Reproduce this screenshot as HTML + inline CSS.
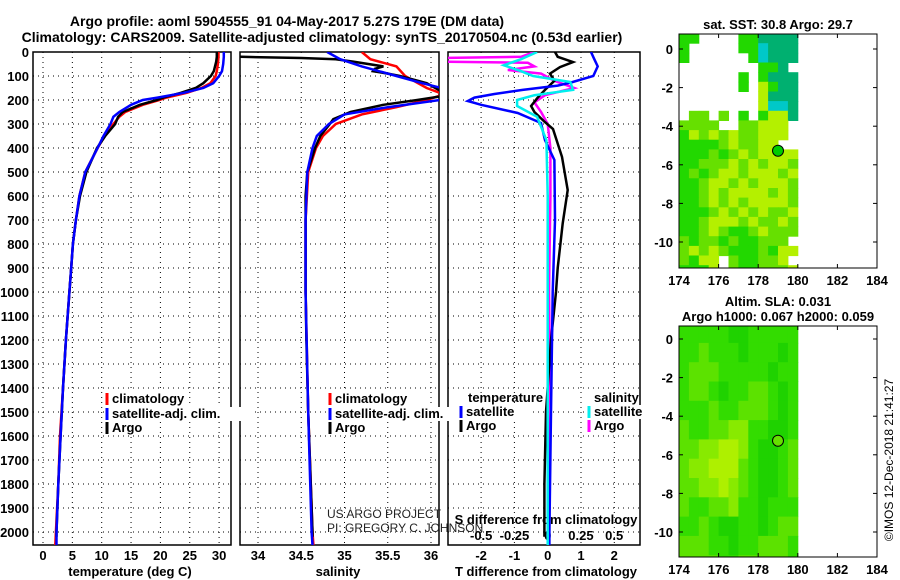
<!DOCTYPE html>
<html><head><meta charset="utf-8"><style>
html,body{margin:0;padding:0;background:#fff;}
svg{display:block;font-family:"Liberation Sans",sans-serif;}
.t{font-weight:bold;font-size:13px;}
</style></head><body>
<svg id="c" width="900" height="580" xmlns="http://www.w3.org/2000/svg">
<defs>
<clipPath id="cp1"><rect x="33" y="52" width="198" height="493"/></clipPath>
<clipPath id="cp2"><rect x="240" y="52" width="199" height="493"/></clipPath>
<clipPath id="cp3"><rect x="448" y="52" width="192" height="493"/></clipPath>
</defs>
<text x="287" y="26" text-anchor="middle" font-size="14" font-weight="bold">Argo profile: aoml 5904555_91 04-May-2017 5.27S 179E (DM data)</text>
<text x="322" y="42" text-anchor="middle" font-size="14" font-weight="bold">Climatology: CARS2009. Satellite-adjusted climatology: synTS_20170504.nc (0.53d earlier)</text>
<g id="g"></g>
</svg>
<script>
const depthTicks=[0,100,200,300,400,500,600,700,800,900,1000,1100,1200,1300,1400,1500,1600,1700,1800,1900,2000];
const tTicks=[0,5,10,15,20,25,30];
const sTicks=[34,34.5,35,35.5,36];
const dtTicks=[-2,-1,0,1,2];
const dsTicks=[-0.5,-0.25,0,0.25,0.5];
const dsTickLabels=['-0.5','-0.25','0','0.25','0.5'];
// temperature profiles
const tDepthClim=[0,20,50,80,100,130,150,170,190,200,220,250,270,300,350,400,500,600,700,800,900,1000,1200,1400,1600,1800,2000,2055];
const tClim=[29.9,29.9,29.8,29.6,29.4,28.5,27,24.5,21,19.8,17,14,13,12,10.5,9.3,7.2,6.2,5.6,5.1,4.8,4.5,3.9,3.4,2.9,2.6,2.2,2.1];
const tSat=[30.8,30.8,30.7,30.5,30,29,27.3,24,19.5,17,15,13,12,11.5,10.3,9.3,7.2,6.2,5.6,5.1,4.8,4.5,3.9,3.4,3,2.6,2.3,2.3];
const tDepthArgo=[0,20,40,60,80,100,130,150,170,190,200,220,250,270,300,350,400,500,600,700,800,900,1000,1200,1400,1600,1800,2000,2020];
const tArgo=[29.6,29.6,29.5,29.3,29.1,28.6,27.3,26,23.5,20.5,19.4,16.5,13.6,12.8,12.3,10.6,9.2,7.4,6.3,5.6,5.1,4.8,4.5,3.9,3.4,3,2.6,2.3,2.3];
// salinity profiles
const sDepthClim=[0,30,60,100,130,150,170,180,200,230,260,300,350,400,500,700,1000,1500,2000,2055];
const sClim=[35.2,35.3,35.6,35.7,35.85,35.95,36.1,36.12,35.95,35.6,35.2,34.9,34.75,34.67,34.58,34.55,34.55,34.58,34.63,34.64];
const sSat=[34.8,34.95,35.2,35.6,35.9,36.12,36.2,36.2,36.1,35.5,35,34.82,34.68,34.63,34.57,34.55,34.55,34.58,34.62,34.63];
const sDepthArgo=[0,10,20,25,30,40,60,70,80,90,100,130,150,170,180,200,220,250,280,300,350,400,500,600,800,1000,1200,1500,2000,2020];
const sArgo=[33.5,33.7,33.8,34.5,34.9,35.1,35.45,35.35,35.33,35.5,35.64,35.95,36.05,36.15,36.2,35.84,35.45,35.07,34.87,34.83,34.72,34.66,34.57,34.55,34.55,34.55,34.56,34.58,34.63,34.63];
// differences
const dDepthSatT=[0,30,60,100,125,140,158,175,190,204,220,254,296,367,450,700,1000,1500,2000,2055];
const dTSat=[1.3,1.4,1.5,1.37,0.75,0.3,-0.75,-1.6,-2.2,-2.4,-2.0,-0.9,-0.2,-0.08,0.2,0.22,0.15,0.1,0.05,0.05];
const dDepthArgoT=[0,20,42,63,90,120,158,190,225,250,290,321,437,575,714,900,1000,1200,1500,1800,2020];
const dTArgo=[0.22,0.3,0.76,0.37,0.07,0.2,-0.08,-0.3,-0.5,-0.4,-0.1,0.16,0.43,0.6,0.45,0.3,0.25,0.1,-0.05,-0.1,-0.1];
const dDepthSatS=[0,30,55,80,100,125,158,180,200,225,270,367,600,1000,2055];
const dSSat=[-0.08,-0.2,-0.33,-0.2,-0.11,0.17,0.19,-0.1,-0.23,-0.23,-0.08,-0.01,0,0,0];
const dDepthArgoS=[0,20,25,40,45,60,75,90,120,150,180,210,250,300,400,600,1000,1500,2000,2020];
const dSArgo=[-0.1,-0.2,-0.8,-0.8,-0.15,-0.1,-0.3,-0.05,0.05,0.2,-0.02,-0.1,-0.05,0,0.02,0.02,0.01,0.02,0.0,0.0];
// map grids
const sstRows=["gg....ggtttt","g.....ggcttt","g......gcttt","........ggt.","......g.gttt","......g.ygtt","........yttt","........ycct",".ll.l.g.gyyt","llll..llyyy.","gylylyllyyy.","gggglyllyy..","ggglglylyyyy","gglllylylyyl","glglyylyyyly","gglyylylyyyl","gglylyyyylyl","gglylylyyyyl","ggglylylylly","gglyyylyllyl","gglylgglylll","lgllglgglll.","lylylggglgyy","lgyy.lgglly.","gggy.lggllly"];
const slaRows=["gggggGGggggg","gglgggGgggGg","glllgggggGgg","gllgGggllgGg","ggglgglllgGg","lggllyyggGGg","llyyYYygGGgl","lyyYYYlgGGgl","llyyYylgGGgl","lggllyggGggg","gglgGGggGgll","lllggGgglllg","llllgglllllg"];
const latTicks=[0,-2,-4,-6,-8,-10];
const lonTicks=[174,176,178,180,182,184];

const NS='http://www.w3.org/2000/svg';
const G=document.getElementById('g');
function mk(tag,at,parent){const e=document.createElementNS(NS,tag);for(const k in at)e.setAttribute(k,at[k]);(parent||G).appendChild(e);return e;}
function txt(x,y,s,cls,anchor,extra){const e=mk('text',Object.assign({x:x,y:y,'text-anchor':anchor||'middle'},extra||{}));if(cls)e.setAttribute('class',cls);e.textContent=s;return e;}
const Y=d=>52+d*0.24;
const xT=t=>43+t*5.87, xS=s=>258+(s-34)*86.5, xDT=v=>547.7+v*33.3, xDS=v=>547.7+v*133;

function panel(x0,x1,name){
  const r=mk('rect',{x:x0,y:52,width:x1-x0,height:493,fill:'none',stroke:'#000','stroke-width':1.5});
  
  
  depthTicks.forEach(d=>{const l=mk('line',{x1:x0,x2:x1,y1:Y(d),y2:Y(d),stroke:'#000','stroke-dasharray':'1,4'});
    
    });
}
function vgrid(xs,fx,x0,name){xs.forEach(v=>{const l=mk('line',{x1:fx(v),x2:fx(v),y1:52,y2:545,stroke:'#000','stroke-dasharray':'1,4'});
  
  });}
function line(ds,vs,fx,color,clip,name){
  const p=mk('path',{d:ds.map((d,i)=>(i?'L':'M')+fx(vs[i]).toFixed(1)+','+Y(d).toFixed(1)).join(''),fill:'none',stroke:color,'stroke-width':2.5,'clip-path':'url(#'+clip+')'});
  
  
}
panel(33,231,'temperature-panel');panel(240,439,'salinity-panel');panel(448,640,'difference-panel');
vgrid(tTicks,xT,33,'temperature');vgrid(sTicks,xS,240,'salinity');vgrid(dtTicks,xDT,448,'difference');
depthTicks.forEach(d=>{const t=txt(29,Y(d)+5,String(d),'t','end');
  
  });
tTicks.forEach(v=>{const t=txt(xT(v),560,String(v),'t');
  
  });
sTicks.forEach(v=>{const t=txt(xS(v),560,String(v),'t');
  
  });
dtTicks.forEach(v=>{const t=txt(xDT(v),560,String(v),'t');
  
  });
dsTicks.forEach((v,i)=>{const t=txt(xDS(v),540,dsTickLabels[i],'t');
  
  });
let e;
e=txt(130,576,'temperature (deg C)','t');
e=txt(338,576,'salinity','t');
e=txt(546,576,'T difference from climatology','t');
e=txt(546,524,'S difference from climatology','t');
e=txt(327,518,'US ARGO PROJECT',null,'start',{'font-size':12,fill:'#222'});
e=txt(327,532,'PI: GREGORY C. JOHNSON',null,'start',{'font-size':12,fill:'#222'});

line(tDepthClim,tClim,xT,'#f00','cp1','temperature-climatology-line');
line(tDepthArgo,tArgo,xT,'#000','cp1','temperature-argo-line');
line(tDepthClim,tSat,xT,'#00f','cp1','temperature-satellite-line');
line(sDepthClim,sClim,xS,'#f00','cp2','salinity-climatology-line');
line(sDepthArgo,sArgo,xS,'#000','cp2','salinity-argo-line');
line(sDepthClim,sSat,xS,'#00f','cp2','salinity-satellite-line');
line(dDepthArgoS,dSArgo,xDS,'#f0f','cp3','s-diff-argo-line');
line(dDepthArgoT,dTArgo,xDT,'#000','cp3','t-diff-argo-line');
line(dDepthSatT,dTSat,xDT,'#00f','cp3','t-diff-satellite-line');
line(dDepthSatS,dSSat,xDS,'#0ee','cp3','s-diff-satellite-line');

function legend(x,y,color,label,name){
  const bg=mk('rect',{x:x-2,y:y-11,width:label.length*6.9+8,height:14,fill:'#fff'});
  
  
  const l=mk('line',{x1:x,x2:x,y1:y-10,y2:y+2,stroke:color,'stroke-width':3});
  
  
  const t=txt(x+5,y,label,'t','start');
  
  
}
legend(107,403,'#f00','climatology','legend-climatology');
legend(107,418,'#00f','satellite-adj. clim.','legend-satellite');
legend(107,432,'#000','Argo','legend-argo');
legend(330,403,'#f00','climatology','legend-salinity-climatology');
legend(330,418,'#00f','satellite-adj. clim.','legend-salinity-satellite');
legend(330,432,'#000','Argo','legend-salinity-argo');
e=txt(468,402,'temperature','t','start');
e=txt(594,402,'salinity','t','start');
legend(461,416,'#00f','satellite','legend-t-satellite');
legend(461,430,'#000','Argo','legend-t-argo');
legend(589,416,'#0ee','satellite','legend-s-satellite');
legend(589,430,'#f0f','Argo','legend-s-argo');

// maps
const sstCol={g:'#22d800',l:'#66e000',y:'#b4f000',t:'#00b070',c:'#00c8c8'};
const slaCol={g:'#33dc00',G:'#1fd200',l:'#5ce200',y:'#88ea00',Y:'#aef000'};
function map(top,bot,lat0y,rows,cols,rowDeg,startLat,title,name,circFill){
  const lx=lon=>679+(lon-174)*19.8, ly=lat=>lat0y-lat*19.3;
  const g=mk('g',{});
  
  
  rows.forEach((r,i)=>{for(let j=0;j<r.length;j++){const c=cols[r[j]];if(!c)continue;
    const y1=Math.max(top,ly(startLat-i*rowDeg)),y2=Math.min(bot,ly(startLat-(i+1)*rowDeg));
    const cell=mk('rect',{x:lx(174+j*0.5).toFixed(1),y:y1.toFixed(1),width:(0.5*19.8+0.5).toFixed(1),height:Math.max(0,y2-y1+0.5).toFixed(1),fill:c},g);
    
    }});
  const fr=mk('rect',{x:679,y:top,width:198,height:bot-top,fill:'none',stroke:'#000','stroke-width':1});
  
  
  latTicks.forEach(v=>{const t=txt(673,ly(v)+5,String(v),'t','end');
    
    
    mk('line',{x1:679,x2:683,y1:ly(v),y2:ly(v),stroke:'#000'});mk('line',{x1:873,x2:877,y1:ly(v),y2:ly(v),stroke:'#000'});});
  lonTicks.forEach(v=>{const t=txt(lx(v),bot+17,String(v),'t');
    
    
    mk('line',{x1:lx(v),x2:lx(v),y1:bot,y2:bot-4,stroke:'#000'});mk('line',{x1:lx(v),x2:lx(v),y1:top,y2:top+4,stroke:'#000'});});
  const c=mk('circle',{cx:lx(179),cy:ly(-5.27),r:5.5,fill:circFill,stroke:'#000','stroke-width':1});
  
  
  title.forEach((s,i)=>{const t=txt(778,top-(title.length-1-i)*15-5,s,'t');
    
    });
}
map(34,268,49,sstRows,sstCol,0.5,0.8,['sat. SST: 30.8 Argo: 29.7'],'sst-map','#00cc00');
map(326,557,339,slaRows,slaCol,1,0.8,['Altim. SLA: 0.031','Argo h1000: 0.067 h2000: 0.059'],'sla-map','#66e000');
e=txt(0,0,'©IMOS 12-Dec-2018 21:41:27',null,'middle',{'font-size':12,transform:'translate(893,460) rotate(-90)'});


</script>
</body></html>
